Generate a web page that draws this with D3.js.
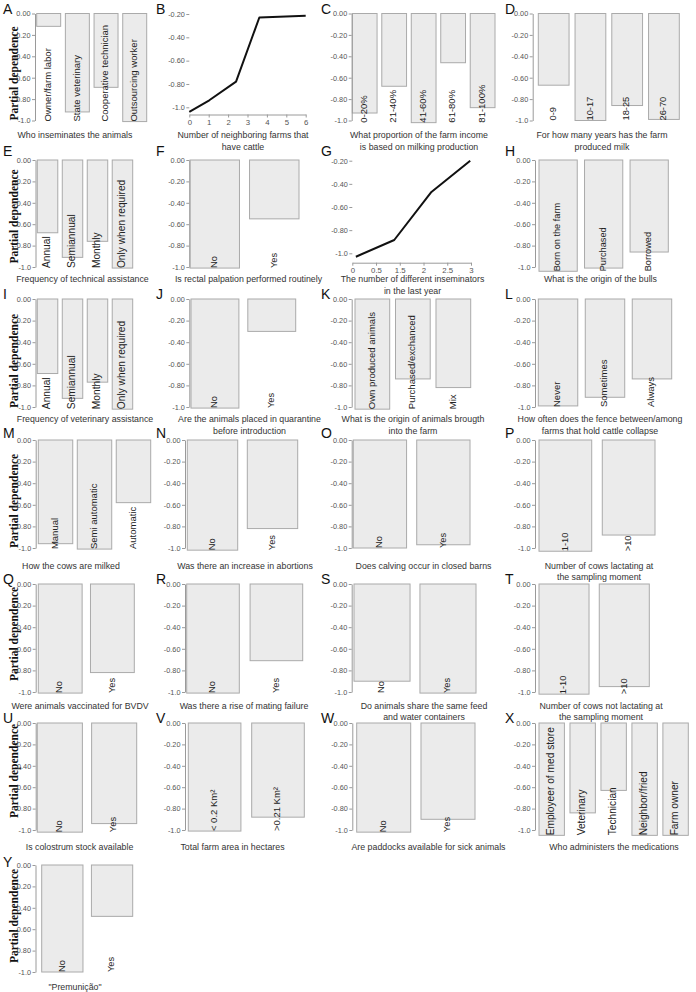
<!DOCTYPE html>
<html><head><meta charset="utf-8">
<script src="https://cdn.jsdelivr.net/npm/d3@7/dist/d3.min.js"></script>
<style>body{margin:0;background:#fff} svg{display:block}</style>
</head><body>
<svg id="c" width="696" height="992"></svg>
<script>
// ---------------- DATA ----------------
const barTickVals = [0, -0.2, -0.4, -0.6, -0.8, -1.0];
const barTickLabels = ["0.00", "-0.20", "-0.40", "-0.60", "-0.80", "-1.0"];
const lineTickVals = [-0.2, -0.4, -0.6, -0.8, -1.0];
const lineTickLabels = ["-0.20", "-0.40", "-0.60", "-0.80", "-1.0"];
const yesNo = ["No", "Yes"];

const aCats = ["Owner/farm labor", "State veterinary", "Cooperative technician", "Outsourcing worker"];
const aVals = [-0.12, -0.92, -0.69, -1.01];
const bX = [0, 1.03, 2.41, 3.61, 6];
const bY = [-1.04, -0.94, -0.78, -0.23, -0.215];
const bTicks = [0, 1, 2, 3, 4, 5, 6];
const cCats = ["0-20%", "21-40%", "41-60%", "61-80%", "81-100%"];
const cVals = [-0.93, -0.68, -1.02, -0.46, -0.88];
const dCats = ["0-9", "10-17", "18-25", "26-70"];
const dVals = [-0.67, -1.0, -0.86, -0.99];
const eCats = ["Annual", "Semiannual", "Monthly", "Only when required"];
const eVals = [-0.68, -0.91, -0.76, -1.01];
const fVals = [-1.01, -0.55];
const gX = [0.09, 1.06, 2.0, 2.98];
const gY = [-1.03, -0.885, -0.47, -0.2];
const gTickPos = [0, 0.6, 1.2, 1.8, 2.4, 3];
const gTickLabels = ["0", "0.5", "1.5", "2", "2.5", "3"];
const hCats = ["Born on the farm", "Purchased", "Borrowed"];
const hVals = [-1.04, -1.01, -0.86];
const iCats = ["Annual", "Semiannual", "Monthly", "Only when required"];
const iVals = [-0.69, -0.92, -0.77, -1.02];
const jVals = [-1.01, -0.30];
const kCats = ["Own produced animals", "Purchased/exchanced", "Mix"];
const kVals = [-1.02, -0.74, -0.82];
const lCats = ["Never", "Sometimes", "Always"];
const lVals = [-0.99, -0.91, -0.74];
const mCats = ["Manual", "Semi automatic", "Automatic"];
const mVals = [-0.96, -1.01, -0.58];
const nVals = [-1.02, -0.82];
const oVals = [-1.0, -0.97];
const pCats = ["1-10", ">10"];
const pVals = [-1.03, -0.88];
const qVals = [-1.01, -0.82];
const rVals = [-1.01, -0.71];
const sVals = [-0.90, -1.01];
const tCats = ["1-10", ">10"];
const tVals = [-1.02, -0.95];
const uVals = [-1.02, -0.94];
const vCats = ["< 0.2 Km²", ">0.21 Km²"];
const vVals = [-1.01, -0.88];
const wVals = [-1.02, -0.90];
const xCats = ["Employeer of med store", "Veterinary", "Technician", "Neighbor/fried", "Farm owner"];
const xVals = [-1.05, -0.84, -0.63, -1.05, -1.05];
const yVals = [-1.0, -0.48];

// ---------------- LAYOUT ----------------
const rows = [
  {y0: 13.5, y1: 120.5, ty: 135,   yt: 73.5,  lb: 14},
  {y0: 160,  y1: 267,   ty: 279,   yt: 216.5, lb: 156},
  {y0: 299,  y1: 407,   ty: 419.3, yt: 361,   lb: 299},
  {y0: 440,  y1: 548,   ty: 565.7, yt: 501,   lb: 438},
  {y0: 584,  y1: 692,   ty: 705.7, yt: 634,   lb: 584},
  {y0: 723,  y1: 830,   ty: 846.7, yt: 771,   lb: 723},
  {y0: 865,  y1: 972,   ty: 987,   yt: 916,   lb: 867}
];
const letterX = [3, 156, 321, 505];

const barPanels = [
  {k:"A", row:0, col:0, ax:35,    L:36.7,  R:146.7, pi:0.164, tx:75,    fs:9.5,  cats:aCats, vals:aVals, title:["Who inseminates the animals"]},
  {k:"C", row:0, col:2, ax:351.7, L:352.3, R:495,   pi:0.16,  tx:419,   fs:9.5,  cats:cCats, vals:cVals, title:["What proportion of the farm income","is based on milking production"]},
  {k:"D", row:0, col:3, ax:532.7, L:538.3, R:679.3, pi:0.163, tx:602,   fs:9.3,  cats:dCats, vals:dVals, title:["For how many years has the farm","produced milk"]},
  {k:"E", row:1, col:0, ax:35.5,  L:37.3,  R:132.7, pi:0.18,  tx:82.5,  fs:10.2, cats:eCats, vals:eVals, title:["Frequency of technical assistance"]},
  {k:"F", row:1, col:1, ax:189.3, L:190,   R:299,   pi:0.169, tx:248.5, fs:9.3,  cats:yesNo, vals:fVals, title:["Is rectal palpation performed routinely"]},
  {k:"H", row:1, col:3, ax:535,   L:539,   R:668.3, pi:0.16,  tx:600.5, fs:9.2,  cats:hCats, vals:hVals, title:["What is the origin of the bulls"]},
  {k:"I", row:2, col:0, ax:35.5,  L:37.3,  R:132.7, pi:0.18,  tx:85,    fs:10.2, cats:iCats, vals:iVals, title:["Frequency of veterinary assistance"]},
  {k:"J", row:2, col:1, ax:189.3, L:191,   R:295.7, pi:0.157, tx:249.5, fs:9.3,  cats:yesNo, vals:jVals, title:["Are the animals placed in quarantine","before introduction"]},
  {k:"K", row:2, col:2, ax:351.7, L:355,   R:470.7, pi:0.143, tx:413,   fs:9.5,  cats:kCats, vals:kVals, title:["What is the origin of animals brougth","into the farm"]},
  {k:"L", row:2, col:3, ax:535,   L:538.3, R:671.7, pi:0.16,  tx:600,   fs:9.5,  cats:lCats, vals:lVals, title:["How often does the fence between/among","farms that hold cattle collapse"]},
  {k:"M", row:3, col:0, ax:35.7,  L:38.3,  R:150.7, pi:0.116, tx:71,    fs:9.5,  cats:mCats, vals:mVals, title:["How the cows are milked"]},
  {k:"N", row:3, col:1, ax:185,   L:187.3, R:297.7, pi:0.16,  tx:245,   fs:9.3,  cats:yesNo, vals:nVals, title:["Was there an increase in abortions"]},
  {k:"O", row:3, col:2, ax:351.7, L:353.3, R:470,   pi:0.16,  tx:423.5, fs:9.3,  cats:yesNo, vals:oVals, title:["Does calving occur in closed barns"]},
  {k:"P", row:3, col:3, ax:535,   L:539,   R:655,   pi:0.167, tx:599,   fs:9.3,  cats:pCats, vals:pVals, title:["Number of cows lactating at","the sampling moment"]},
  {k:"Q", row:4, col:0, ax:35.7,  L:38.3,  R:134.3, pi:0.16,  tx:80,    fs:9.3,  cats:yesNo, vals:qVals, title:["Were animals vaccinated for BVDV"]},
  {k:"R", row:4, col:1, ax:185,   L:186.7, R:302.7, pi:0.17,  tx:244,   fs:9.3,  cats:yesNo, vals:rVals, title:["Was there a rise of mating failure"]},
  {k:"S", row:4, col:2, ax:351.7, L:354,   R:476,   pi:0.15,  tx:424,   fs:9.3,  cats:yesNo, vals:sVals, title:["Do animals share the same feed","and water containers"]},
  {k:"T", row:4, col:3, ax:535,   L:539,   R:649.3, pi:0.17,  tx:601,   fs:9.3,  cats:tCats, vals:tVals, title:["Number of cows not lactating at","the sampling moment"]},
  {k:"U", row:5, col:0, ax:35.7,  L:37.3,  R:136.7, pi:0.17,  tx:79.5,  fs:9.3,  cats:yesNo, vals:uVals, title:["Is colostrum stock available"]},
  {k:"V", row:5, col:1, ax:185,   L:188.3, R:304.3, pi:0.17,  tx:232.5, fs:9.5,  cats:vCats, vals:vVals, title:["Total farm area in hectares"]},
  {k:"W", row:5, col:2, ax:352.3, L:356.7, R:475,   pi:0.16,  tx:428.5, fs:9.3,  cats:yesNo, vals:wVals, title:["Are paddocks available for sick animals"]},
  {k:"X", row:5, col:3, ax:535,   L:539,   R:688.3, pi:0.18,  tx:614,   fs:10.2, cats:xCats, vals:xVals, title:["Who administers the medications"]},
  {k:"Y", row:6, col:0, ax:35.5,  L:41.7,  R:132.7, pi:0.17,  tx:75,    fs:9.3,  cats:yesNo, vals:yVals, title:["\"Premunição\""]}
];

const linePanels = [
  {k:"B", row:0, col:1, ax:189.3, xr:[189.3,305.7], xd:[0,6], yTop:14, yBot:107.3, axisY:114.5, tx:243,
   xs:bX, ys:bY, tickPos:bTicks, tickLab:bTicks.map(String), title:["Number of neighboring farms that","have cattle"]},
  {k:"G", row:1, col:2, ax:352.3, xr:[352.3,471], xd:[0,3], yTop:160.7, yBot:253.3, axisY:262.7, tx:412.5,
   xs:gX, ys:gY, tickPos:gTickPos, tickLab:gTickLabels, title:["The number of different inseminators","in the last year"]}
];

// ---------------- DRAW ----------------
const svg = d3.select("#c");
svg.append("rect").attr("width", 696).attr("height", 992).attr("fill", "#fff");
const SANS = "'Liberation Sans', Arial, Helvetica, sans-serif";
const SERIF = "'Liberation Serif', 'Times New Roman', serif";

function styleAxis(g, domainOn) {
  g.attr("font-size", null).attr("font-family", null);
  g.selectAll("text").attr("font-size", 7.3).attr("font-family", SANS).attr("fill", "#555");
  g.selectAll("line").attr("stroke", "#9a9a9a");
  g.select(".domain").attr("stroke", "#9a9a9a");
  if (!domainOn) g.select(".domain").remove();
}

function drawYAxis(x, scale, tv, tl, domainOn) {
  const ax = d3.axisLeft(scale).tickValues(tv).tickFormat((d, i) => tl[i])
    .tickSize(3).tickPadding(1.5).tickSizeOuter(0);
  const g = svg.append("g").attr("transform", `translate(${x},0)`).call(ax);
  styleAxis(g, domainOn);
}

function drawTitle(tx, ty, lines) {
  lines.forEach((t, i) => {
    svg.append("text").attr("x", tx).attr("y", ty + i * 11.6).attr("dy", "0.35em")
      .attr("text-anchor", "middle").attr("font-family", SANS).attr("font-size", 8.8)
      .attr("fill", "#333").text(t);
  });
}

function drawLetter(k, row, col) {
  svg.append("text").attr("x", letterX[col]).attr("y", rows[row].lb)
    .attr("font-family", SANS).attr("font-size", 14).attr("fill", "#111").text(k);
}

// Y axis titles, one per row
rows.forEach(r => {
  svg.append("text").attr("transform", `translate(14,${r.yt}) rotate(-90)`)
    .attr("text-anchor", "middle").attr("dy", "0.35em")
    .attr("font-family", SERIF).attr("font-weight", "bold").attr("font-size", 11.5)
    .attr("fill", "#111").text("Partial dependence");
});

barPanels.forEach(p => {
  const r = rows[p.row];
  const y = d3.scaleLinear().domain([-1, 0]).range([r.y1, r.y0]);
  const x = d3.scaleBand().domain(p.cats).range([p.L, p.R]).paddingInner(p.pi).paddingOuter(0);
  const g = svg.append("g");
  g.selectAll("rect").data(p.vals).join("rect")
    .attr("x", (d, i) => x(p.cats[i])).attr("y", y(0))
    .attr("width", x.bandwidth()).attr("height", d => y(d) - y(0))
    .attr("fill", "#ebebeb").attr("stroke", "#aaaaaa").attr("stroke-width", 1);
  drawYAxis(p.ax, y, barTickVals, barTickLabels, true);
  const base = y(Math.min(-1, d3.min(p.vals)));
  g.selectAll("text.cat").data(p.cats).join("text").attr("class", "cat")
    .attr("transform", d => `translate(${x(d) + x.bandwidth() / 2 - 1},${base}) rotate(-90)`)
    .attr("dy", "0.35em").attr("text-anchor", "start")
    .attr("font-family", SANS).attr("font-size", p.fs).attr("fill", "#222").text(d => d);
  drawTitle(p.tx, r.ty, p.title);
  drawLetter(p.k, p.row, p.col);
});

linePanels.forEach(p => {
  const r = rows[p.row];
  const x = d3.scaleLinear().domain(p.xd).range(p.xr);
  const y = d3.scaleLinear().domain([-1, -0.2]).range([p.yBot, p.yTop]);
  drawYAxis(p.ax, y, lineTickVals, lineTickLabels, false);
  const xa = d3.axisBottom(x).tickValues(p.tickPos).tickFormat((d, i) => p.tickLab[i])
    .tickSize(3).tickPadding(1.5).tickSizeOuter(0);
  const g = svg.append("g").attr("transform", `translate(0,${p.axisY})`).call(xa);
  styleAxis(g, true);
  g.selectAll("text").attr("font-size", 7.8);
  const pts = p.xs.map((v, i) => [v, p.ys[i]]);
  svg.append("path").datum(pts)
    .attr("d", d3.line().x(d => x(d[0])).y(d => y(d[1])))
    .attr("fill", "none").attr("stroke", "#111").attr("stroke-width", 2).attr("stroke-linejoin", "round");
  drawTitle(p.tx, r.ty, p.title);
  drawLetter(p.k, p.row, p.col);
});
</script>
</body></html>
